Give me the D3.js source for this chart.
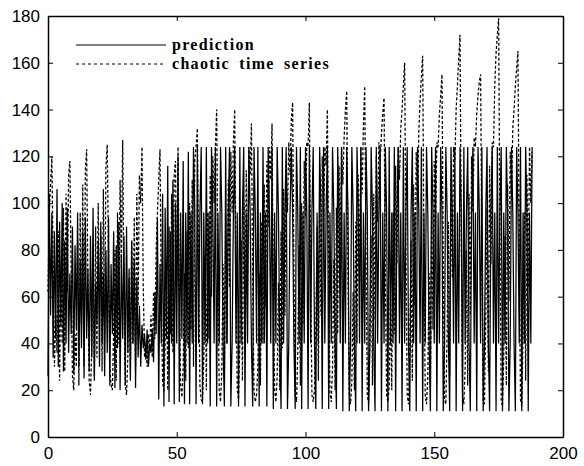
<!DOCTYPE html>
<html>
<head>
<meta charset="utf-8">
<script src="https://cdn.jsdelivr.net/npm/d3@7"></script>
<style>
  html, body { margin: 0; padding: 0; background: #fff; }
  svg { display: block; }
</style>
</head>
<body>
<svg id="chart" width="584" height="466"></svg>
<script>
// Both series are sampled every half time unit, starting at t = 0
const sampleStep = 0.5;

const prediction = [
  26, 104, 52, 96, 34, 88, 42, 106, 30, 92,
  48, 100, 28, 84, 40, 98, 36, 70, 44, 90,
  27, 82, 46, 96, 30, 76, 38, 88, 25, 94,
  42, 72, 28, 86, 34, 98, 24, 66, 48, 84,
  30, 92, 40, 70, 26, 80, 36, 94, 22, 74,
  44, 88, 21, 82, 38, 92, 20, 78, 42, 86,
  22, 90, 36, 72, 24, 84, 40, 76, 21, 68,
  34, 56, 30, 48, 38, 44, 33, 46, 30, 40,
  36, 46, 32, 62, 44, 94, 16, 74, 40, 104,
  13, 98, 42, 116, 15, 88, 40, 110, 14, 100,
  40, 120, 15, 96, 42, 118, 14, 96, 40, 122,
  14, 96, 40, 124, 96, 14, 124, 40, 96, 124,
  14, 96, 40, 124, 40, 96, 13, 124, 96, 40,
  124, 13, 96, 40, 124, 96, 40, 13, 124, 40,
  96, 124, 13, 40, 96, 124, 40, 96, 13, 124,
  40, 96, 124, 13, 96, 40, 124, 96, 40, 13,
  124, 96, 40, 124, 13, 96, 40, 124, 40, 96,
  13, 124, 96, 40, 124, 12, 96, 40, 124, 96,
  40, 12, 124, 40, 96, 124, 12, 40, 96, 124,
  96, 40, 12, 124, 96, 40, 124, 12, 96, 40,
  124, 96, 12, 124, 40, 96, 124, 40, 12, 96,
  40, 124, 96, 12, 124, 40, 96, 124, 12, 96,
  40, 124, 96, 40, 12, 124, 96, 40, 124, 11,
  96, 40, 124, 96, 11, 40, 124, 96, 40, 11,
  124, 96, 40, 124, 11, 96, 40, 124, 96, 11,
  40, 124, 96, 40, 11, 124, 40, 96, 124, 11,
  96, 40, 124, 96, 11, 124, 40, 96, 40, 124,
  11, 96, 124, 40, 96, 11, 124, 40, 96, 124,
  40, 11, 96, 124, 40, 96, 11, 124, 96, 40,
  124, 11, 96, 40, 124, 96, 40, 11, 124, 96,
  40, 124, 11, 96, 40, 124, 96, 11, 40, 124,
  96, 40, 11, 124, 96, 40, 124, 11, 96, 40,
  124, 96, 11, 124, 40, 96, 124, 40, 11, 96,
  124, 40, 96, 11, 124, 96, 40, 124, 11, 40,
  96, 124, 40, 11, 96, 124, 40, 96, 11, 124,
  40, 96, 124, 11, 96, 40, 124, 96, 11, 40,
  124, 96, 40, 11, 124, 96, 40, 124, 11, 96,
  40, 124, 96, 11, 96, 40, 124
];

const chaoticSeries = [
  62, 96, 108, 120, 74, 30, 52, 36, 88, 24,
  70, 40, 98, 28, 104, 62, 112, 118, 70, 26,
  20, 44, 30, 84, 22, 96, 48, 108, 30, 114,
  123, 66, 24, 18, 38, 72, 26, 90, 34, 100,
  52, 86, 28, 106, 44, 116, 125, 78, 30, 22,
  20, 46, 80, 24, 96, 40, 110, 72, 127, 60,
  22, 18, 34, 68, 28, 84, 40, 94, 30, 104,
  56, 112, 100, 124, 64, 34, 40, 30, 44, 38,
  52, 34, 62, 42, 80, 96, 110, 123, 58, 24,
  19, 40, 74, 20, 90, 44, 104, 36, 112, 118,
  66, 124, 60, 22, 17, 30, 70, 24, 88, 38,
  100, 46, 110, 30, 118, 124, 132, 70, 22, 16,
  15, 34, 78, 20, 96, 42, 112, 60, 120, 100,
  124, 140, 66, 20, 15, 28, 74, 22, 94, 40,
  110, 64, 122, 96, 126, 140, 72, 20, 16, 40,
  84, 24, 100, 48, 114, 70, 124, 112, 134, 66,
  20, 15, 18, 30, 70, 22, 92, 40, 108, 56,
  118, 90, 124, 110, 134, 64, 20, 15, 26, 66,
  20, 88, 38, 106, 52, 118, 96, 126, 112, 136,
  143, 70, 18, 15, 36, 82, 22, 100, 48, 118,
  94, 126, 124, 143, 68, 18, 15, 20, 44, 90,
  24, 104, 52, 120, 88, 124, 116, 140, 70, 19,
  15, 30, 76, 20, 98, 44, 116, 74, 124, 108,
  128, 140, 148, 72, 18, 14, 24, 62, 20, 92,
  40, 112, 66, 124, 104, 134, 150, 76, 18, 14,
  40, 86, 22, 104, 50, 120, 92, 126, 118, 130,
  138, 145, 70, 18, 15, 22, 60, 20, 96, 44,
  116, 74, 124, 110, 132, 140, 150, 160, 80, 18,
  14, 34, 84, 24, 108, 56, 122, 100, 130, 144,
  154, 163, 78, 18, 14, 26, 70, 20, 98, 46,
  118, 90, 126, 124, 138, 146, 155, 74, 16, 14,
  44, 92, 26, 112, 68, 124, 118, 140, 150, 162,
  172, 84, 18, 14, 30, 80, 22, 104, 52, 120,
  96, 128, 124, 138, 146, 152, 155, 76, 16, 14,
  50, 98, 28, 116, 74, 126, 124, 150, 164, 172,
  179, 86, 16, 13, 34, 86, 22, 108, 58, 122,
  104, 132, 140, 150, 158, 165, 80, 16, 13, 44,
  96, 24, 112, 64, 124, 100, 122
];

const xTicks = [0, 50, 100, 150, 200];
const yTicks = [0, 20, 40, 60, 80, 100, 120, 140, 160, 180];
const legendLabels = ["prediction", "chaotic time series"];

const svg = d3.select("#chart");
const frame = { left: 48, right: 563, top: 16, bottom: 437 };

const x = d3.scaleLinear().domain([0, 200]).range([frame.left, frame.right]);
const y = d3.scaleLinear().domain([0, 180]).range([frame.bottom, frame.top]);

const lineGen = d3.line()
  .x((d, i) => x(i * sampleStep))
  .y(d => y(d));

const plot = svg.append("g");

// dashed: the measured chaotic series
plot.append("path")
  .datum(chaoticSeries)
  .attr("d", lineGen)
  .attr("fill", "none")
  .attr("stroke", "#000")
  .attr("stroke-width", 1.25)
  .attr("stroke-dasharray", "3,2");

// solid: the prediction
plot.append("path")
  .datum(prediction)
  .attr("d", lineGen)
  .attr("fill", "none")
  .attr("stroke", "#000")
  .attr("stroke-width", 1.25);

// axes box with inward ticks on all four sides
const tickLen = 5;
const axisFont = "'Liberation Sans', Arial, sans-serif";

const gB = svg.append("g").attr("transform", `translate(0,${frame.bottom})`)
  .call(d3.axisBottom(x).tickValues(xTicks).tickSizeInner(-tickLen).tickSizeOuter(0).tickPadding(10));
const gT = svg.append("g").attr("transform", `translate(0,${frame.top})`)
  .call(d3.axisTop(x).tickValues(xTicks).tickSizeInner(-tickLen).tickSizeOuter(0).tickFormat(""));
const gL = svg.append("g").attr("transform", `translate(${frame.left},0)`)
  .call(d3.axisLeft(y).tickValues(yTicks).tickSizeInner(-tickLen).tickSizeOuter(0).tickPadding(8));
const gR = svg.append("g").attr("transform", `translate(${frame.right},0)`)
  .call(d3.axisRight(y).tickValues(yTicks).tickSizeInner(-tickLen).tickSizeOuter(0).tickFormat(""));

[gB, gT, gL, gR].forEach(g => {
  g.select(".domain").attr("stroke", "#000").attr("stroke-width", 1.5);
  g.selectAll(".tick line").attr("stroke", "#000");
  g.selectAll("text")
    .attr("fill", "#000")
    .style("font-family", axisFont)
    .style("font-size", "17px");
});
gB.selectAll("text").attr("dy", "0.71em");

// legend
const legend = svg.append("g");
const legendRows = [
  { label: legendLabels[0], dash: null, yPos: 45 },
  { label: legendLabels[1], dash: "3,3", yPos: 64 }
];
legendRows.forEach(r => {
  legend.append("line")
    .attr("x1", 76).attr("x2", 166)
    .attr("y1", r.yPos).attr("y2", r.yPos)
    .attr("stroke", "#000").attr("stroke-width", 1)
    .attr("stroke-dasharray", r.dash);
  legend.append("text")
    .attr("x", 172).attr("y", r.yPos)
    .attr("dy", "0.32em")
    .style("font-family", "'Liberation Serif', 'Times New Roman', serif")
    .style("font-weight", "bold")
    .style("font-size", "16px")
    .style("letter-spacing", "1.3px")
    .style("word-spacing", "4px")
    .attr("fill", "#000")
    .text(r.label);
});
</script>
</body>
</html>
